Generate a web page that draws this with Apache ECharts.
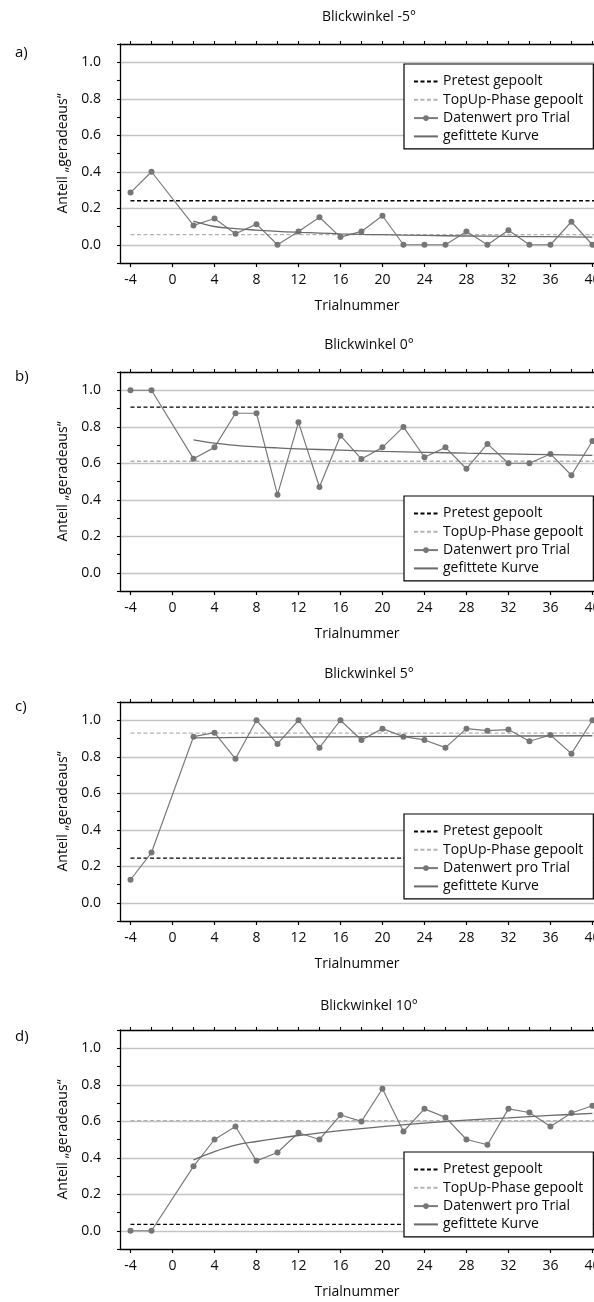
<!DOCTYPE html>
<html><head><meta charset="utf-8">
<script src="https://cdn.jsdelivr.net/npm/echarts@6/dist/echarts.min.js"></script>
<style>html,body{margin:0;padding:0;background:#fff;overflow:hidden}#c{width:594px;height:1302px}</style>
</head><body><div id="c"></div>
<script>
// ---- data ----
const panelTitles = ['Blickwinkel -5°', 'Blickwinkel 0°', 'Blickwinkel 5°', 'Blickwinkel 10°'];
const panelLabels = ['a)', 'b)', 'c)', 'd)'];
const trials = [-4, -2, 2, 4, 6, 8, 10, 12, 14, 16, 18, 20, 22, 24, 26, 28, 30, 32, 34, 36, 38, 40];
const dataA = [0.286, 0.40, 0.106, 0.144, 0.060, 0.113, 0.0, 0.073, 0.151, 0.042, 0.073, 0.159, 0.0, 0.0, 0.0, 0.073, 0.0, 0.080, 0.0, 0.0, 0.126, 0.0];
const dataB = [1.0, 1.0, 0.625, 0.687, 0.874, 0.874, 0.428, 0.824, 0.470, 0.751, 0.623, 0.687, 0.799, 0.633, 0.687, 0.570, 0.706, 0.600, 0.600, 0.651, 0.534, 0.722];
const dataC = [0.126, 0.275, 0.910, 0.932, 0.789, 1.0, 0.870, 1.0, 0.850, 1.0, 0.892, 0.954, 0.910, 0.892, 0.850, 0.954, 0.943, 0.949, 0.885, 0.919, 0.817, 1.0];
const dataD = [0.0, 0.0, 0.353, 0.500, 0.571, 0.383, 0.429, 0.537, 0.500, 0.634, 0.599, 0.778, 0.544, 0.668, 0.621, 0.500, 0.471, 0.668, 0.648, 0.571, 0.645, 0.685];
const fitXA = [2, 4, 6, 8, 10, 12, 14, 16, 18, 20, 24, 28, 32, 36, 40];
const fitA = [0.130, 0.100, 0.088, 0.080, 0.073, 0.068, 0.064, 0.060, 0.057, 0.055, 0.051, 0.048, 0.046, 0.044, 0.042];
const fitXB = [2, 4, 6, 8, 10, 12, 16, 20, 24, 28, 32, 36, 40];
const fitB = [0.728, 0.710, 0.698, 0.690, 0.684, 0.679, 0.672, 0.665, 0.660, 0.655, 0.651, 0.647, 0.643];
const fitXC = [2, 10, 20, 30, 40];
const fitC = [0.903, 0.907, 0.910, 0.913, 0.915];
const fitXD = [2, 4, 6, 8, 10, 12, 14, 16, 20, 24, 28, 32, 36, 40];
const fitD = [0.388, 0.434, 0.469, 0.489, 0.506, 0.522, 0.536, 0.549, 0.570, 0.590, 0.606, 0.619, 0.632, 0.643];
const pretest = [0.241, 0.907, 0.245, 0.035];
const topup = [0.055, 0.611, 0.930, 0.603];
const refLineX = [-4, 41];
const xTicks = [-4, 0, 4, 8, 12, 16, 20, 24, 28, 32, 36, 40];
const topTicks = [-4, -2, 0, 2, 4, 6, 8, 10, 12, 14, 16, 18, 20, 22, 24, 26, 28, 30, 32, 34, 36, 38, 40];
const yLabels = [0.0, 0.2, 0.4, 0.6, 0.8, 1.0];
const names = ['Pretest gepoolt', 'TopUp-Phase gepoolt', 'Datenwert pro Trial', 'gefittete Kurve'];

// ---- layout ----
const FONT = '"Open Sans", "Noto Sans", sans-serif';
const TXT = '#0a0a0a';
const gridTops = [44, 372, 702, 1030];
const gridH = 219;
const legendTops = [64, 496, 814, 1152];
const titleY = [17, 345, 674, 1006];
const labelY = [53, 377, 707, 1037];

const values = [dataA, dataB, dataC, dataD];
const fitsX = [fitXA, fitXB, fitXC, fitXD];
const fits = [fitA, fitB, fitC, fitD];

const hiddenSymbol = {opacity: 0, borderWidth: 0};
const legendData = [
  {name: names[0], itemStyle: hiddenSymbol},
  {name: names[1], itemStyle: hiddenSymbol},
  {name: names[2]},
  {name: names[3], itemStyle: hiddenSymbol}
];

const grids = [], xAxes = [], yAxes = [], series = [], legends = [], graphics = [];
for (let i = 0; i < 4; i++) {
  grids.push({left: 120, right: 0, top: gridTops[i], height: gridH, containLabel: false, outerBoundsMode: 'none'});
  xAxes.push({
    type: 'value', gridIndex: i, position: 'bottom', min: -5, max: 40.15,
    name: 'Trialnummer', nameLocation: 'middle', nameGap: 36,
    nameTextStyle: {fontFamily: FONT, fontSize: 14, color: TXT},
    axisLine: {show: true, onZero: false, lineStyle: {color: '#000', width: 1.3}},
    axisTick: {show: true, customValues: xTicks, length: 4, lineStyle: {color: '#000', width: 1.2}},
    axisLabel: {customValues: xTicks, margin: 10, fontFamily: FONT, fontSize: 14, color: TXT,
      hideOverlap: false, formatter: v => String(v)},
    splitLine: {show: false}
  });
  xAxes.push({
    type: 'value', gridIndex: i, position: 'top', min: -5, max: 40.15,
    axisLine: {show: true, onZero: false, lineStyle: {color: '#000', width: 1.3}},
    axisTick: {show: true, customValues: topTicks, length: 3, lineStyle: {color: '#000', width: 1.1}},
    axisLabel: {show: false},
    splitLine: {show: false}
  });
  yAxes.push({
    type: 'value', gridIndex: i, min: -0.1, max: 1.1, interval: 0.1,
    name: 'Anteil \u201Egeradeaus\u201C', nameLocation: 'middle', nameGap: 44, nameRotate: 90,
    nameTextStyle: {fontFamily: FONT, fontSize: 14, color: TXT},
    axisLine: {show: true, onZero: false, lineStyle: {color: '#000', width: 1.3}},
    axisTick: {show: true, length: 3, lineStyle: {color: '#000', width: 1.1}},
    axisLabel: {margin: 19, fontFamily: FONT, fontSize: 14, color: TXT,
      formatter: v => yLabels.some(l => Math.abs(l - v) < 1e-6) ? v.toFixed(1) : ''},
    splitLine: {show: true, lineStyle: {color: ['rgba(0,0,0,0)', '#c4c4c4'], width: 1.3}}
  });
  series.push({
    name: names[0], type: 'line', xAxisIndex: 2 * i, yAxisIndex: i,
    data: refLineX.map(x => [x, pretest[i]]), symbol: 'none', silent: true,
    lineStyle: {color: '#000', width: 1.3, type: [4, 2.5]}, itemStyle: {color: '#000'}, z: 3
  });
  series.push({
    name: names[1], type: 'line', xAxisIndex: 2 * i, yAxisIndex: i,
    data: refLineX.map(x => [x, topup[i]]), symbol: 'none', silent: true,
    lineStyle: {color: '#b2b2b2', width: 1.3, type: [4, 2.5]}, itemStyle: {color: '#b2b2b2'}, z: 3
  });
  series.push({
    name: names[2], type: 'line', xAxisIndex: 2 * i, yAxisIndex: i,
    data: trials.map((x, k) => [x, values[i][k]]), symbol: 'circle', symbolSize: 6, showSymbol: true,
    lineStyle: {color: '#7a7a7a', width: 1.2}, itemStyle: {color: '#767676'}, z: 4
  });
  series.push({
    name: names[3], type: 'line', xAxisIndex: 2 * i, yAxisIndex: i,
    data: fitsX[i].map((x, k) => [x, fits[i][k]]), symbol: 'none', smooth: 0.4,
    lineStyle: {color: '#6a6a6a', width: 1.3}, itemStyle: {color: '#6a6a6a'}, z: 5
  });
  legends.push({
    orient: 'vertical', left: 404, top: legendTops[i], itemWidth: 24, itemHeight: 7, itemGap: 4.3,
    padding: [10.5, 10, 5.5, 9], backgroundColor: '#fff', borderColor: '#000', borderWidth: 1.2,
    selectedMode: false, data: legendData, z: 10,
    textStyle: {fontFamily: FONT, fontSize: 14, color: TXT}
  });
  graphics.push({type: 'text', x: 369, y: titleY[i], z: 20,
    style: {text: panelTitles[i], font: '14px ' + FONT, fill: TXT, align: 'center', verticalAlign: 'middle'}});
  graphics.push({type: 'text', x: 15, y: labelY[i], z: 20,
    style: {text: panelLabels[i], font: '15px ' + FONT, fill: TXT, align: 'left', verticalAlign: 'middle'}});
}

const chart = echarts.init(document.getElementById('c'), null, {renderer: 'canvas'});
chart.setOption({
  animation: false,
  backgroundColor: '#fff',
  grid: grids, xAxis: xAxes, yAxis: yAxes, series: series, legend: legends, graphic: graphics
});
</script>
</body></html>
